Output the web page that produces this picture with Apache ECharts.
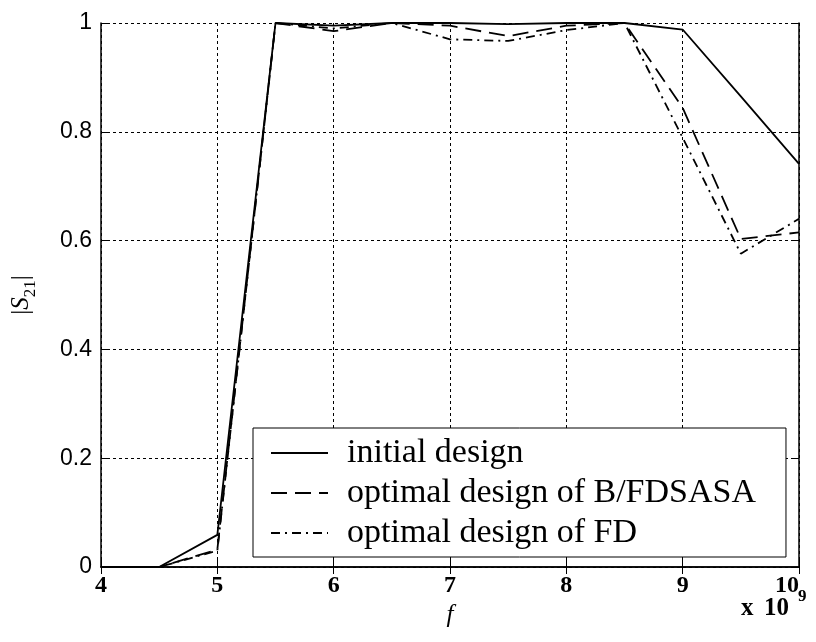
<!DOCTYPE html>
<html>
<head>
<meta charset="utf-8">
<script src="https://cdn.jsdelivr.net/npm/echarts@6/dist/echarts.min.js"></script>
<style>
  html, body { margin: 0; padding: 0; background: #fff; }
  #chart { width: 816px; height: 642px; }
</style>
</head>
<body>
<div id="chart"></div>
<script>
// Frequency samples (axis shows x 10^9)
const freq = [4, 4.5, 5, 5.5, 6, 6.5, 7, 7.5, 8, 8.5, 9, 9.5, 10];
// |S21| magnitude for each design
const initialDesign = [0, 0, 0.059, 1.0, 0.995, 1.0, 1.0, 0.998, 1.0, 1.0, 0.988, 0.865, 0.741];
const bfdsasaDesign = [0, 0, 0.032, 1.0, 0.985, 1.0, 0.995, 0.976, 0.995, 1.0, 0.844, 0.603, 0.615];
const fdDesign      = [0, 0, 0.030, 1.0, 0.990, 1.0, 0.970, 0.967, 0.987, 1.0, 0.789, 0.576, 0.640];
const seriesNames = ['initial design', 'optimal design of B/FDSASA', 'optimal design of FD'];
const xTicks = [4, 5, 6, 7, 8, 9, 10];
const yTicks = [0, 0.2, 0.4, 0.6, 0.8, 1];

const serif = 'Liberation Serif';
const sans = 'Liberation Sans';
const pairs = arr => freq.map((f, i) => [f, arr[i]]);

const chart = echarts.init(document.getElementById('chart'), null, { renderer: 'canvas' });

const gridLine = { show: true, lineStyle: { color: '#000', width: 1, type: [3, 3] } };
const axisLine = { show: true, lineStyle: { color: '#000', width: 1.5 } };
const tickIn = { show: true, inside: true, length: 7, lineStyle: { color: '#000', width: 1 } };

chart.setOption({
  backgroundColor: '#fff',
  animation: false,
  grid: { left: 101, right: 17, top: 23, bottom: 75, containLabel: false },
  xAxis: [
    {
      type: 'value', min: 4, max: 10, interval: 1, position: 'bottom',
      axisLine, axisTick: tickIn, splitLine: gridLine,
      axisLabel: { color: '#000', fontFamily: serif, fontWeight: 'bold', fontSize: 24, margin: 7,
                   alignMaxLabel: 'right',
                   formatter: v => xTicks.includes(v) ? String(v) : '' },
      name: 'f', nameLocation: 'middle', nameGap: 31,
      nameTextStyle: { color: '#000', fontFamily: serif, fontStyle: 'italic', fontSize: 25 }
    },
    {
      type: 'value', min: 4, max: 10, interval: 1, position: 'top',
      axisLine, axisTick: tickIn, splitLine: { show: false }, axisLabel: { show: false }
    }
  ],
  yAxis: [
    {
      type: 'value', min: 0, max: 1, interval: 0.2, position: 'left',
      axisLine, axisTick: tickIn, splitLine: gridLine,
      axisLabel: { color: '#000', fontFamily: sans, fontSize: 23, margin: 9,
                   formatter: v => { const t = yTicks.find(y => Math.abs(y - v) < 1e-9); return t === undefined ? '' : String(t); } },
      name: '{b||}{s|S}{sub|21}{b||}', nameLocation: 'middle', nameRotate: 90, nameGap: 62,
      nameTextStyle: {
        color: '#000', fontFamily: serif, fontSize: 25,
        rich: {
          b: { fontFamily: serif, fontSize: 25, color: '#000' },
          s: { fontFamily: serif, fontSize: 25, fontStyle: 'italic', color: '#000' },
          sub: { fontFamily: serif, fontSize: 17, color: '#000', verticalAlign: 'bottom', lineHeight: 36 }
        }
      }
    },
    {
      type: 'value', min: 0, max: 1, interval: 0.2, position: 'right',
      axisLine, axisTick: tickIn, splitLine: { show: false }, axisLabel: { show: false }
    }
  ],
  legend: {
    orient: 'vertical',
    left: 253, top: 428,
    data: seriesNames,
    backgroundColor: '#fff',
    borderColor: '#000', borderWidth: 1, borderRadius: 0,
    padding: [5, 30, 4, 17],
    itemWidth: 57, itemHeight: 14, itemGap: 0,
    itemStyle: { opacity: 0 },
    textStyle: { color: '#000', fontFamily: serif, fontSize: 34, lineHeight: 40, padding: [0, 0, 0, 14] }
  },
  graphic: [
    {
      type: 'text', left: 741, top: 596,
      style: { text: 'x', fontFamily: serif, fontWeight: 'bold', fontSize: 25, fill: '#000' }
    },
    {
      type: 'text', left: 764, top: 596,
      style: { text: '10', fontFamily: serif, fontWeight: 'bold', fontSize: 25, fill: '#000' }
    },
    {
      type: 'text', left: 798, top: 588,
      style: { text: '9', fontFamily: serif, fontWeight: 'bold', fontSize: 17, fill: '#000' }
    }
  ],
  series: [
    {
      name: seriesNames[0], type: 'line', data: pairs(initialDesign), symbol: 'none',
      lineStyle: { color: '#000', width: 1.8, type: 'solid' }, itemStyle: { color: '#000' }, z: 5
    },
    {
      name: seriesNames[1], type: 'line', data: pairs(bfdsasaDesign), symbol: 'none',
      lineStyle: { color: '#000', width: 1.8, type: [16, 8] }, itemStyle: { color: '#000' }, z: 4
    },
    {
      name: seriesNames[2], type: 'line', data: pairs(fdDesign), symbol: 'none',
      lineStyle: { color: '#000', width: 1.8, type: [9, 5, 2, 5] }, itemStyle: { color: '#000' }, z: 3
    }
  ]
});
</script>
</body>
</html>
